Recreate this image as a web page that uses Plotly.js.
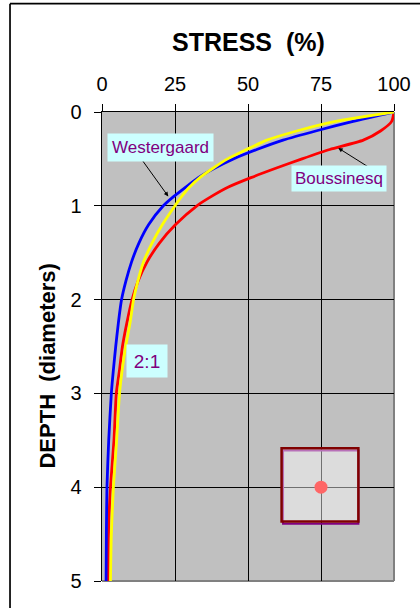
<!DOCTYPE html>
<html>
<head>
<meta charset="utf-8">
<script src="https://cdn.plot.ly/plotly-3.0.1.min.js"></script>
<style>
html,body{margin:0;padding:0;background:#fff;}
#chart{width:420px;height:608px;}
</style>
</head>
<body>
<div id="chart"></div>
<script>
// depth in diameters
var depth = [0,0.1,0.2,0.3,0.4,0.5,0.6,0.7,0.8,0.9,1.0,1.2,1.4,1.6,1.8,2.0,2.25,2.5,2.75,3.0,3.5,4.0,4.5,5.0];
// stress in % for each method
var westergaard = [100,86,73.5,62,53,45,38.5,33,28.7,24.6,21.0,16.0,12.6,10.1,8.2,6.7,5.6,4.7,3.9,3.2,2.3,1.7,1.5,1.4];
var boussinesq  = [100,99.2,95.5,89.5,78,68.5,59.5,51,43.3,37.5,32.5,25.2,19.6,15.4,12.4,10.3,8.5,7.0,6.0,4.9,4.1,2.9,2.2,2.2];
var twoToOne    = [100,80,67,56.5,49.5,43,38,33.5,30,27.3,25,20.7,17.1,14.2,12.3,10.8,9.6,8.1,6.9,6.0,5.0,3.9,3.2,2.9];
// footing sketch point
var footX = [75];
var footY = [4];
var xTicks = [0,25,50,75,100];
var yTicks = [0,1,2,3,4,5];

var FONT = 'Arial, "Liberation Sans", sans-serif';

var traces = [
  {x: boussinesq, y: depth, mode:'lines', line:{color:'#ff0000', width:2.8, shape:'spline', smoothing:0.6}, hoverinfo:'skip'},
  {x: westergaard, y: depth, mode:'lines', line:{color:'#0000ff', width:2.8, shape:'spline', smoothing:0.6}, hoverinfo:'skip'},
  {x: twoToOne, y: depth, mode:'lines', line:{color:'#ffff00', width:2.8, shape:'spline', smoothing:0.6}, hoverinfo:'skip'},
  {x: footX, y: footY, mode:'markers', marker:{color:'#ff6666', size:13}, hoverinfo:'skip'}
];

var layout = {
  width:420, height:608,
  margin:{l:102, r:26, t:112, b:27},
  paper_bgcolor:'#ffffff',
  plot_bgcolor:'#c0c0c0',
  showlegend:false,
  font:{family:FONT, color:'#000'},
  xaxis:{
    side:'top', range:[0,100], tickvals:xTicks, ticktext:xTicks.map(String),
    ticks:'outside', ticklen:7, tickwidth:1, tickcolor:'#000',
    showline:true, linecolor:'#000', linewidth:1.5,
    showgrid:true, gridcolor:'#000', gridwidth:1, zeroline:false,
    tickfont:{size:20, family:FONT, color:'#000'}, ticklabelstandoff:5
  },
  yaxis:{
    range:[5,0], tickvals:yTicks, ticktext:yTicks.map(String),
    ticks:'outside', ticklen:7, tickwidth:1, tickcolor:'#000',
    showline:true, linecolor:'#000', linewidth:1.5,
    showgrid:true, gridcolor:'#000', gridwidth:1, zeroline:false,
    tickfont:{size:20, family:FONT, color:'#000'}, ticklabelstandoff:8
  },
  shapes:[
    // footing sketch
    {type:'rect', xref:'x', yref:'y', x0:62.0, x1:87.8, y0:3.61, y1:4.39, layer:'between',
     line:{color:'#800080', width:2}, fillcolor:'rgba(0,0,0,0)'},
    {type:'rect', xref:'x', yref:'y', x0:61.5, x1:87.8, y0:3.584, y1:4.367, layer:'between',
     line:{color:'#800000', width:2.5}, fillcolor:'rgba(255,255,255,0.44)'},
    // gray right / bottom plot border
    {type:'line', xref:'paper', yref:'paper', x0:1, x1:1, y0:0, y1:1, layer:'between', line:{color:'#808080', width:2}},
    {type:'line', xref:'paper', yref:'paper', x0:0, x1:1, y0:0, y1:0, layer:'between', line:{color:'#808080', width:2}},
    // outer frame
    {type:'line', xref:'paper', yref:'paper', x0:-0.315, x1:-0.315, y0:-0.1, y1:1.231, layer:'above', line:{color:'#000', width:1.7}},
    {type:'line', xref:'paper', yref:'paper', x0:-0.315, x1:1.2, y0:1.231, y1:1.231, layer:'above', line:{color:'#000', width:1.7}}
  ],
  annotations:[
    {text:'<b>STRESS\u00a0\u00a0(%)</b>', xref:'paper', yref:'paper', x:0.5, y:(580.7-42.5)/468.4,
     xanchor:'center', yanchor:'middle', showarrow:false, font:{size:25, family:FONT, color:'#000'}},
    {text:'<b>DEPTH\u00a0\u00a0(diameters)</b>', xref:'paper', yref:'paper', x:(47.5-102)/292, y:(580.7-366)/468.4,
     xanchor:'center', yanchor:'middle', textangle:-90, showarrow:false, font:{size:22, family:FONT, color:'#000'}},
    // arrows
    {text:' ', xref:'x', yref:'y', x:22.7, y:0.90, ax:-30, ay:-41.7, showarrow:true,
     arrowhead:2, arrowsize:0.9, arrowwidth:1, arrowcolor:'#000', standoff:0, startstandoff:0},
    {text:' ', xref:'x', yref:'y', x:80.9, y:0.384, ax:33.4, ay:21, showarrow:true,
     arrowhead:2, arrowsize:0.9, arrowwidth:1, arrowcolor:'#000', standoff:0, startstandoff:0},
    // labels
    {text:'Westergaard', xref:'x', yref:'y', x:19.9, y:0.375, showarrow:false, xanchor:'center', yanchor:'middle',
     bgcolor:'#ccffff', borderpad:4, font:{size:17, family:FONT, color:'#800080'}},
    {text:'Boussinesq', xref:'x', yref:'y', x:81.2, y:0.706, showarrow:false, xanchor:'center', yanchor:'middle',
     bgcolor:'#ccffff', borderpad:3, font:{size:17, family:FONT, color:'#800080'}},
    {text:'2:1', xref:'x', yref:'y', x:15.3, y:2.653, showarrow:false, xanchor:'center', yanchor:'middle',
     bgcolor:'#ccffff', width:38, height:30, borderpad:1, font:{size:19, family:FONT, color:'#800080'}}
  ]
};

Plotly.newPlot('chart', traces, layout, {staticPlot:true, displayModeBar:false});
</script>
</body>
</html>
